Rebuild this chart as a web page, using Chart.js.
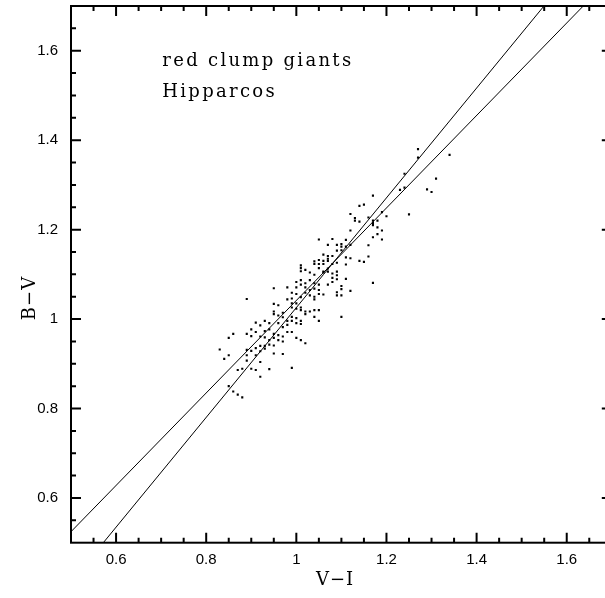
<!DOCTYPE html>
<html>
<head>
<meta charset="utf-8">
<script src="https://cdn.jsdelivr.net/npm/chart.js@4.4.1/dist/chart.umd.min.js"></script>
<style>
    html, body { margin: 0; padding: 0; background: #fff; overflow: hidden; }
    #wrap { width: 620px; height: 598px; }
</style>
</head>
<body>
<div id="wrap"><canvas id="mycanvas"></canvas></div>
<script>
// V-I and B-V of the red clump stars
var vi = [1.27, 1.27, 1.34, 1.24, 1.31, 1.29, 1.30, 1.23, 1.24, 1.17,
          1.14, 1.15, 1.12, 1.13, 1.13, 1.14, 1.16, 1.17, 1.17, 1.18,
          1.19, 1.20, 1.25, 1.18, 1.19, 1.12, 1.18, 1.17, 1.19, 1.08,
          1.07, 1.11, 1.09, 1.10, 1.10, 1.10, 1.11, 1.16, 1.09, 1.08,
          1.07, 1.07, 1.11, 1.12, 1.16, 1.14, 1.15, 1.09, 1.08, 1.11,
          1.07, 1.07, 1.08, 1.09, 1.06, 1.09, 1.09, 1.08, 1.08, 1.07,
          1.11, 1.17, 1.10, 1.10, 1.12, 1.09, 1.09, 1.10, 1.10, 1.05,
          1.06, 1.01, 1.01, 1.01, 1.02, 1.02, 1.03, 1.04, 1.04, 1.05,
          1.05, 1.05, 1.06, 1.06, 1.07, 0.95, 0.96, 0.98, 0.99, 1.00,
          1.00, 1.01, 0.89, 1.03, 1.04, 1.06, 1.02, 1.03, 1.04, 1.04,
          1.05, 1.05, 0.99, 1.00, 1.01, 1.02, 1.03, 1.04, 1.04, 1.05,
          0.95, 0.98, 0.99, 1.00, 0.99, 1.00, 1.01, 1.01, 1.02, 1.02,
          1.03, 1.04, 1.05, 1.05, 1.04, 0.95, 0.95, 0.96, 0.97, 0.97,
          0.98, 0.99, 0.99, 1.00, 1.00, 1.01, 0.91, 0.92, 0.93, 0.94,
          0.94, 0.93, 0.96, 0.97, 0.98, 0.98, 0.90, 0.89, 0.90, 0.91,
          0.92, 0.93, 0.94, 0.95, 0.95, 0.96, 0.96, 0.97, 0.97, 0.99,
          1.00, 1.01, 1.02, 0.86, 0.85, 0.83, 0.85, 0.84, 0.89, 0.89,
          0.89, 0.90, 0.91, 0.91, 0.92, 0.92, 0.93, 0.93, 0.94, 0.95,
          0.95, 0.97, 0.99, 0.87, 0.88, 0.90, 0.91, 0.92, 0.94, 0.92,
          0.85, 0.86, 0.87, 0.88, 1.01, 1.06, 1.01, 1.12, 1.17];
var bv = [1.380, 1.361, 1.367, 1.325, 1.314, 1.290, 1.284, 1.289, 1.294, 1.276,
          1.253, 1.256, 1.235, 1.226, 1.220, 1.218, 1.227, 1.220, 1.215, 1.220,
          1.239, 1.230, 1.234, 1.205, 1.198, 1.198, 1.190, 1.183, 1.178, 1.179,
          1.166, 1.177, 1.166, 1.168, 1.162, 1.154, 1.162, 1.165, 1.153, 1.141,
          1.141, 1.135, 1.138, 1.136, 1.140, 1.130, 1.128, 1.126, 1.123, 1.122,
          1.113, 1.106, 1.102, 1.106, 1.106, 1.098, 1.089, 1.092, 1.083, 1.077,
          1.090, 1.081, 1.074, 1.067, 1.063, 1.060, 1.053, 1.053, 1.005, 1.178,
          1.144, 1.120, 1.114, 1.107, 1.110, 1.080, 1.087, 1.129, 1.123, 1.132,
          1.123, 1.114, 1.130, 1.123, 1.130, 1.069, 1.031, 1.071, 1.046, 1.083,
          1.071, 1.077, 1.045, 1.104, 1.099, 1.104, 1.071, 1.065, 1.080, 1.068,
          1.077, 1.065, 1.059, 1.056, 1.049, 1.059, 1.053, 1.050, 1.044, 1.056,
          1.034, 1.044, 1.035, 1.035, 1.026, 1.023, 1.026, 1.020, 1.017, 1.011,
          1.017, 1.020, 1.020, 0.996, 1.005, 1.017, 1.011, 1.008, 1.014, 1.004,
          0.996, 1.005, 0.996, 1.002, 0.991, 0.996, 0.992, 0.986, 0.996, 0.991,
          0.977, 0.973, 0.991, 0.982, 0.987, 0.971, 0.977, 0.967, 0.962, 0.971,
          0.961, 0.959, 0.953, 0.967, 0.958, 0.964, 0.953, 0.961, 0.950, 0.971,
          0.958, 0.953, 0.946, 0.967, 0.958, 0.932, 0.919, 0.911, 0.931, 0.919,
          0.907, 0.929, 0.935, 0.919, 0.940, 0.928, 0.934, 0.940, 0.943, 0.941,
          0.923, 0.922, 0.891, 0.886, 0.889, 0.889, 0.886, 0.904, 0.888, 0.871,
          0.850, 0.838, 0.831, 0.825, 1.087, 1.055, 0.989, 1.166, 1.210];

// the two relations, as end points on the frame
var fitAx = [0.5717, 1.5495];
var fitAy = [0.5, 1.7];
var fitBx = [0.5, 1.6367];
var fitBy = [0.5246, 1.7];

var xMin = 0.5, xMax = 1.7, yMin = 0.5, yMax = 1.7;
var tickVals = [0.6, 0.8, 1.0, 1.2, 1.4, 1.6];
var tickText = ['0.6', '0.8', '1', '1.2', '1.4', '1.6'];
var minorStep = 0.05;

var xTitle = 'V\u2212I';
var yTitle = 'B\u2212V';
var notes = ['red clump giants', 'Hipparcos'];
var noteX = 0.7026;
var noteY = [1.5657, 1.4958];

var serif = 'DejaVu Serif';

function pairs(xs, ys) {
    var out = [];
    for (var i = 0; i < xs.length; i++) {
        out.push({x: xs[i], y: ys[i]});
    }
    return out;
}

function setTicks(scale) {
    scale.ticks = tickVals.map(function (v) { return {value: v}; });
}

function tickLabel(value) {
    var i = tickVals.indexOf(Number(value.toFixed(2)));
    return i >= 0 ? tickText[i] : '';
}

// frame with inward ticks on all four sides, plus the texts
var frame = {
    id: 'frame',
    afterDraw: function (chart) {
        var ctx = chart.ctx;
        var a = chart.chartArea;
        var xs = chart.scales.x, ys = chart.scales.y;
        ctx.save();
        ctx.strokeStyle = '#000';
        ctx.lineWidth = 2;
        ctx.strokeRect(a.left, a.top, a.right - a.left, a.bottom - a.top);

        ctx.beginPath();
        var n = Math.round((xMax - xMin) / minorStep);
        for (var i = 1; i < n; i++) {
            var v = xMin + i * minorStep;
            var len = (Math.round(v * 100) % 20 === 0) ? 10 : 5;
            var px = xs.getPixelForValue(v);
            ctx.moveTo(px, a.bottom); ctx.lineTo(px, a.bottom - len);
            ctx.moveTo(px, a.top); ctx.lineTo(px, a.top + len);
            var py = ys.getPixelForValue(yMin + i * minorStep);
            ctx.moveTo(a.left, py); ctx.lineTo(a.left + len, py);
            ctx.moveTo(a.right, py); ctx.lineTo(a.right - len, py);
        }
        ctx.stroke();

        ctx.fillStyle = '#000';
        ctx.font = '18px "' + serif + '"';
        ctx.letterSpacing = '2.3px';
        ctx.textAlign = 'left';
        ctx.textBaseline = 'alphabetic';
        for (var k = 0; k < notes.length; k++) {
            ctx.fillText(notes[k], xs.getPixelForValue(noteX), ys.getPixelForValue(noteY[k]));
        }

        ctx.letterSpacing = '1px';
        ctx.textAlign = 'center';
        ctx.textBaseline = 'middle';
        ctx.fillText(xTitle, 335, 580);
        ctx.translate(30, 298);
        ctx.rotate(-Math.PI / 2);
        ctx.fillText(yTitle, 0, 0);
        ctx.restore();
    }
};

var ctx = document.getElementById('mycanvas');

var chart = new Chart(ctx, {
    type: 'scatter',
    data: {
        datasets: [
            {
                label: 'stars',
                data: pairs(vi, bv),
                pointStyle: 'rect',
                pointRadius: 1.5,
                pointBorderWidth: 0,
                backgroundColor: '#000',
                borderColor: '#000'
            },
            {
                label: 'fit A',
                data: pairs(fitAx, fitAy),
                showLine: true,
                borderColor: '#000',
                borderWidth: 1,
                pointRadius: 0
            },
            {
                label: 'fit B',
                data: pairs(fitBx, fitBy),
                showLine: true,
                borderColor: '#000',
                borderWidth: 1,
                pointRadius: 0
            }
        ]
    },
    options: {
        responsive: true,
        maintainAspectRatio: false,
        animation: false,
        layout: { padding: { top: 6, right: 8.2, left: 0, bottom: 0 } },
        plugins: { legend: { display: false }, tooltip: { enabled: false } },
        scales: {
            x: {
                type: 'linear',
                min: xMin,
                max: xMax,
                afterBuildTicks: setTicks,
                afterFit: function (s) {
                    s.height = 55.3;
                    s.paddingLeft = 0;
                    s.paddingRight = 0;
                },
                grid: { display: false, drawTicks: false },
                border: { display: false },
                ticks: {
                    padding: 8,
                    color: '#000',
                    maxRotation: 0,
                    font: { family: 'Liberation Sans', size: 15 },
                    callback: tickLabel
                }
            },
            y: {
                type: 'linear',
                min: yMin,
                max: yMax,
                afterBuildTicks: setTicks,
                afterFit: function (s) {
                    s.width = 71;
                    s.paddingTop = 0;
                    s.paddingBottom = 0;
                },
                grid: { display: false, drawTicks: false },
                border: { display: false },
                ticks: {
                    padding: 13,
                    color: '#000',
                    font: { family: 'Liberation Sans', size: 15 },
                    callback: tickLabel
                }
            }
        }
    },
    plugins: [frame]
});
</script>
</body>
</html>
